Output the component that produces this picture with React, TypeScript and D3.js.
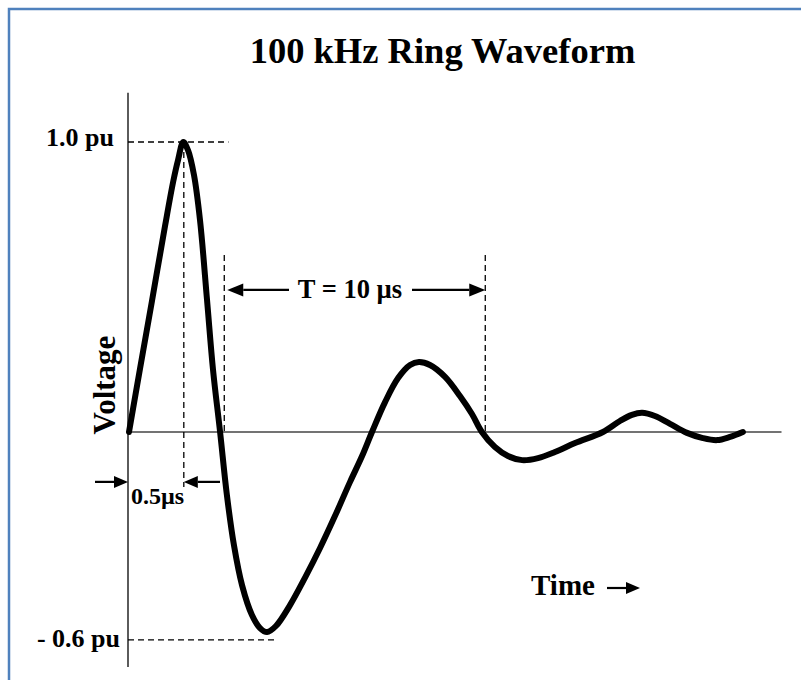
import React from "react";
import * as d3 from "d3";

// ---- data (time in µs, voltage in pu) ----
const waveTime = [
  0, 0.42, 0.88, 1.38, 1.69, 1.88, 2.08, 2.26, 2.49, 2.72, 2.99, 3.22, 3.49,
  3.75, 4.02, 4.33, 4.71, 5.02, 5.29, 5.63, 6.17, 6.74, 7.32, 7.89, 8.47, 8.93,
  9.31, 9.81, 10.31, 10.77, 11.11, 11.53, 12.11, 12.68, 13.14, 13.52, 14.02,
  14.52, 15.06, 15.67, 16.32, 17.09, 18.16, 18.81, 19.27, 19.66, 20.15, 20.73,
  21.38, 21.99, 22.53, 23.03, 23.52,
];
const waveVolt = [
  0, 0.217, 0.452, 0.71, 0.862, 0.938, 1.0, 0.972, 0.886, 0.731, 0.455, 0.214,
  0, -0.217, -0.39, -0.528, -0.631, -0.676, -0.69, -0.669, -0.597, -0.503, -0.4,
  -0.29, -0.172, -0.083, 0, 0.103, 0.186, 0.231, 0.241, 0.231, 0.19, 0.124,
  0.062, 0, -0.052, -0.083, -0.097, -0.09, -0.069, -0.038, 0, 0.038, 0.059,
  0.066, 0.055, 0.028, -0.003, -0.021, -0.028, -0.017, 0,
];

const timeDomain = [0, 25];
const voltDomain = [-0.7, 1.0];
const axisVoltExtent = [-0.81, 1.17];

const peakLevel = 1.0; // "1.0 pu"
const troughLevel = -0.717; // "- 0.6 pu" reference line
const peakTime = 2.1;
const periodStart = 3.65;
const periodLength = 10;

const titleText = "100 kHz Ring Waveform";
const yLabels = ["1.0 pu", "- 0.6 pu"];
const yAxisTitle = "Voltage";
const xAxisTitle = "Time";
const periodLabel = "T = 10 µs";
const riseLabel = "0.5µs";

const font = "'Liberation Serif', 'Times New Roman', serif";

function Arrow({ x1, x2, y, head = 14, half = 6 }: { x1: number; x2: number; y: number; head?: number; half?: number }) {
  // arrow from x1 (tail) to x2 (tip)
  const dir = x2 > x1 ? 1 : -1;
  const base = x2 - dir * head;
  return (
    <g>
      <line x1={x1} y1={y} x2={base} y2={y} stroke="#000" strokeWidth={2.2} />
      <path d={`M${x2},${y} L${base},${y - half} L${base},${y + half} Z`} fill="#000" />
    </g>
  );
}

export default function App() {
  const W = 801;
  const H = 680;
  const x = d3.scaleLinear().domain(timeDomain).range([129, 781.5]);
  const y = d3.scaleLinear().domain(voltDomain).range([635, 142]);

  const pts: [number, number][] = waveTime.map((t, i) => [t, waveVolt[i]]);
  const line = d3
    .line<[number, number]>()
    .x((d) => x(d[0]))
    .y((d) => y(d[1]))
    .curve(d3.curveCatmullRom.alpha(0.5));

  const x0 = x(0) - 1;
  const dash = "6,4";
  const periodEnd = periodStart + periodLength;
  const arrowY = y(0.49);
  const riseArrowY = y(-0.172);

  return (
    <svg
      width={W}
      height={H}
      style={{ position: "absolute", left: 0, top: 0, background: "#fff" }}
      fontFamily={font}
    >
      <rect x={0} y={0} width={W} height={H} fill="#fff" />
      {/* frame */}
      <rect x={9} y={9} width={W + 20} height={H + 20} fill="none" stroke="#4f81bd" strokeWidth={2.5} />

      {/* title */}
      <text x={442.5} y={63} textAnchor="middle" fontSize={36.5} fontWeight="bold" fill="#000">
        {titleText}
      </text>

      {/* axes */}
      <line x1={x0} x2={x0} y1={y(axisVoltExtent[1])} y2={y(axisVoltExtent[0])} stroke="#333" strokeWidth={1.6} />
      <line x1={x0} x2={x(timeDomain[1])} y1={y(0)} y2={y(0)} stroke="#444" strokeWidth={1.6} />

      {/* dashed reference lines */}
      <g stroke="#000" strokeWidth={1.3} strokeDasharray={dash} fill="none">
        <line x1={x0} x2={x(3.81)} y1={y(peakLevel)} y2={y(peakLevel)} />
        <line x1={x0} x2={x(5.67)} y1={y(troughLevel)} y2={y(troughLevel)} />
        <line x1={x(peakTime)} x2={x(peakTime)} y1={y(peakLevel)} y2={y(-0.19)} />
        <line x1={x(periodStart)} x2={x(periodStart)} y1={y(0.61)} y2={y(0)} />
        <line x1={x(periodEnd)} x2={x(periodEnd)} y1={y(0.61)} y2={y(0)} />
      </g>

      {/* waveform */}
      <path d={line(pts) || ""} fill="none" stroke="#000" strokeWidth={6} strokeLinejoin="round" strokeLinecap="round" />

      {/* y labels */}
      <text x={114} y={y(peakLevel) + 4} textAnchor="end" fontSize={26} fontWeight="bold" fill="#000">
        {yLabels[0]}
      </text>
      <text x={120} y={647} textAnchor="end" fontSize={26} fontWeight="bold" fill="#000">
        {yLabels[1]}
      </text>
      <text
        transform={`translate(115,385) rotate(-90)`}
        textAnchor="middle"
        fontSize={31}
        fontWeight="bold"
        fill="#000"
      >
        {yAxisTitle}
      </text>

      {/* period annotation */}
      <Arrow x1={289} x2={x(periodStart) + 3} y={arrowY} head={16} half={6.5} />
      <Arrow x1={412} x2={x(periodEnd)} y={arrowY} head={16} half={6.5} />
      <text x={350} y={298} textAnchor="middle" fontSize={26.5} fontWeight="bold" fill="#000">
        {periodLabel}
      </text>

      {/* rise annotation */}
      <Arrow x1={95} x2={x0} y={riseArrowY} head={14} half={6} />
      <Arrow x1={220} x2={x(peakTime)} y={riseArrowY} head={14} half={6} />
      <text x={131} y={504} fontSize={24} fontWeight="bold" fill="#000">
        {riseLabel}
      </text>

      {/* time label */}
      <text x={531} y={595} fontSize={29} fontWeight="bold" fill="#000">
        {xAxisTitle}
      </text>
      <Arrow x1={607} x2={640} y={588} head={14} half={6} />
    </svg>
  );
}
